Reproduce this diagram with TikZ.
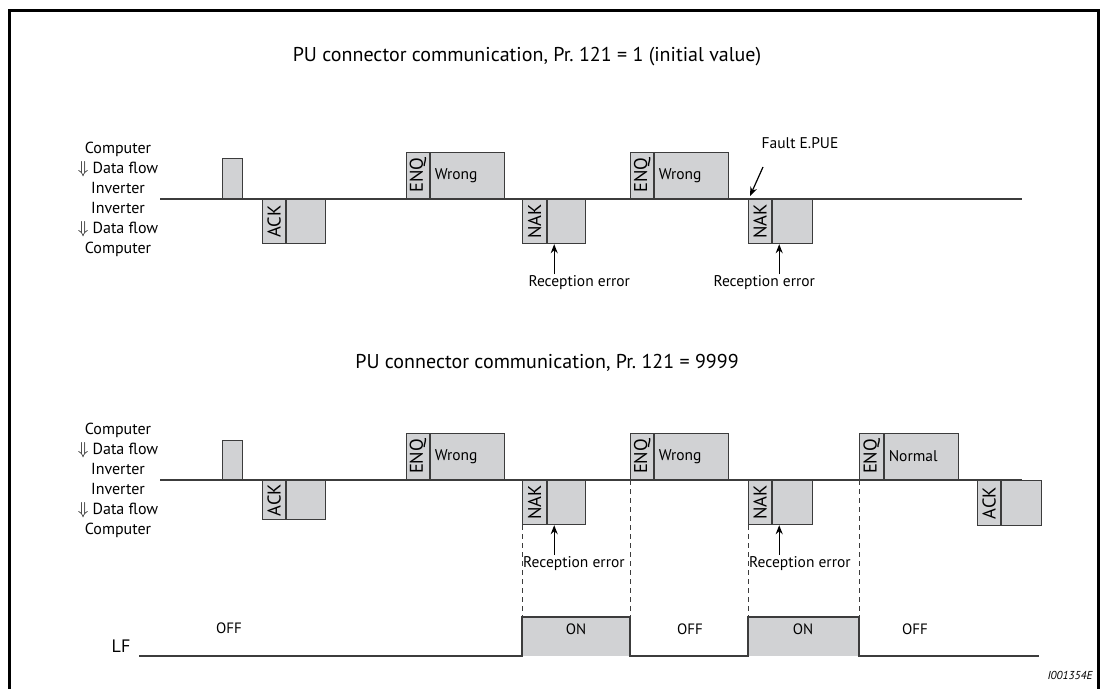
\documentclass[tikz,border=0pt]{standalone}
\usepackage{fontspec}
\setmainfont{PT Sans}
\usetikzlibrary{arrows.meta}

\definecolor{boxgray}{RGB}{209,210,212}
\definecolor{linegray}{RGB}{60,60,60}

\tikzstyle{wire} = [draw=linegray, line width=1.2pt]
\tikzstyle{tag} = [draw=linegray, fill=boxgray, line width=1.2pt, inner sep=0pt, minimum width=23pt, font=\fontsize{18.5}{19}\selectfont]
\tikzstyle{body} = [draw=linegray, fill=boxgray, line width=1.2pt, inner ysep=0pt, inner xsep=4pt, align=left, font=\fontsize{15.5}{17}\selectfont]
\tikzstyle{up} = [minimum height=46pt, anchor=south west]
\tikzstyle{down} = [minimum height=44pt, anchor=north west]
\tikzstyle{title} = [font=\fontsize{20}{22}\selectfont]
\tikzstyle{side} = [align=center, font=\fontsize{16}{20}\selectfont]
\tikzstyle{note} = [inner sep=1pt, font=\fontsize{15.5}{17}\selectfont]
\tikzstyle{state} = [font=\fontsize{15}{16}\selectfont]
\tikzstyle{errarrow} = [draw=black, line width=1.2pt, -{Stealth[length=9pt,width=7pt]}]
\tikzstyle{guide} = [draw=linegray, line width=0.8pt, dash pattern=on 5pt off 4pt]

\begin{document}
\begin{tikzpicture}[x=1pt, y=-1pt]
\useasboundingbox (0,0) rectangle (1105,688);
\clip (0,0) rectangle (1105,688);
%frame
\draw[line width=3pt] (9,700) -- (9,10) -- (1098,10) -- (1098,700);

%begin section 1 - Pr. 121 = 1
\node[title] (titleA) at (527,57) {PU connector communication, Pr.~121 = 1 (initial value)};
\node[side] (sideA) at (118,199) {Computer\\$\Downarrow$ Data flow\\Inverter\\Inverter\\$\Downarrow$ Data flow\\Computer};
\coordinate (startA) at (160,199);
\coordinate (endA) at (1022,199);
\draw[wire] (startA) -- (endA);
\node[body, minimum height=40pt, text width=12pt, anchor=south west] (pulseA) at (222,199) {};
\node[tag, down] (ackA) at (262,199) {\rotatebox{90}{ACK}};
\node[body, down, text width=31pt] (ackAb) at (ackA.north east) {};
\node[tag, up] (enqA) at (406,199) {\rotatebox{90}{ENQ}};
\node[body, up, text width=66pt] (enqAb) at (enqA.south east) {Wrong};
\node[tag, down, minimum width=24pt] (nakA) at (522,199) {\rotatebox{90}{NAK}};
\node[body, down, text width=30pt] (nakAb) at (nakA.north east) {};
\node[tag, up] (enqB) at (630,199) {\rotatebox{90}{ENQ}};
\node[body, up, text width=66pt] (enqBb) at (enqB.south east) {Wrong};
\node[tag, down] (nakB) at (748,199) {\rotatebox{90}{NAK}};
\node[body, down, text width=32pt] (nakBb) at (nakB.north east) {};
%reception errors
\node[note, anchor=north] (rxA) at ([xshift=32pt, yshift=-30pt]nakAb.south west) {Reception error};
\coordinate (tipA) at ([xshift=7pt]nakAb.south west);
\draw[errarrow] (tipA |- rxA.north) -- (tipA);
\node[note, anchor=north] (rxB) at ([xshift=-8pt, yshift=-30pt]nakBb.south west) {Reception error};
\coordinate (tipB) at ([xshift=7pt]nakBb.south west);
\draw[errarrow] (tipB |- rxB.north) -- (tipB);
%fault
\node[note] (faultA) at (800,143) {Fault E.PUE};
\coordinate (faultTail) at (763,167);
\draw[errarrow] (faultTail) -- ([xshift=2pt, yshift=3pt]nakB.north west);
%end section 1

%begin section 2 - Pr. 121 = 9999
\node[title] (titleB) at (547,363) {PU connector communication, Pr.~121 = 9999};
\node[side] (sideB) at (118,480) {Computer\\$\Downarrow$ Data flow\\Inverter\\Inverter\\$\Downarrow$ Data flow\\Computer};
\coordinate (startB) at (160,480);
\coordinate (endB) at (1022,480);
\draw[wire] (startB) -- (endB);
\node[body, minimum height=39pt, text width=12pt, anchor=south west] (pulseB) at (222,480) {};
\node[tag, down, minimum height=39pt] (ackC) at (262,480) {\rotatebox{90}{ACK}};
\node[body, down, minimum height=39pt, text width=31pt] (ackCb) at (ackC.north east) {};
\node[tag, up] (enqC) at (406,480) {\rotatebox{90}{ENQ}};
\node[body, up, text width=66pt] (enqCb) at (enqC.south east) {Wrong};
\node[tag, down, minimum width=24pt] (nakC) at (522,480) {\rotatebox{90}{NAK}};
\node[body, down, text width=30pt] (nakCb) at (nakC.north east) {};
\node[tag, up] (enqD) at (630,480) {\rotatebox{90}{ENQ}};
\node[body, up, text width=66pt] (enqDb) at (enqD.south east) {Wrong};
\node[tag, down] (nakD) at (748,480) {\rotatebox{90}{NAK}};
\node[body, down, text width=32pt] (nakDb) at (nakD.north east) {};
\node[tag, up, minimum width=24pt] (enqE) at (859,480) {\rotatebox{90}{ENQ}};
\node[body, up, text width=66pt] (enqEb) at (enqE.south east) {Normal};
\node[tag, down, minimum height=45pt] (ackD) at (977,480) {\rotatebox{90}{ACK}};
\node[body, down, minimum height=45pt, text width=32pt] (ackDb) at (ackD.north east) {};
%reception errors
\node[note, anchor=north west] (rxC) at ([yshift=-30pt]nakC.south west) {Reception error};
\coordinate (tipC) at ([xshift=7pt]nakCb.south west);
\draw[errarrow] (tipC |- rxC.north) -- (tipC);
\node[note, anchor=north west] (rxD) at ([yshift=-30pt]nakD.south west) {Reception error};
\coordinate (tipD) at ([xshift=7pt]nakDb.south west);
\draw[errarrow] (tipD |- rxD.north) -- (tipD);
%end section 2

%begin LF signal
\coordinate (lfHigh) at (0,617);
\coordinate (lfLow) at (0,656);
\coordinate (lfStart) at (139,656);
\coordinate (lfEnd) at (1039,656);
\fill[boxgray] (nakC.south west |- lfHigh) rectangle (enqD.south west |- lfLow);
\fill[boxgray] (nakD.south west |- lfHigh) rectangle (enqE.south west |- lfLow);
\draw[guide] (nakC.south west) -- (nakC.south west |- lfHigh);
\draw[guide] (enqD.south west) -- (enqD.south west |- lfHigh);
\draw[guide] (nakD.south west) -- (nakD.south west |- lfHigh);
\draw[guide] (enqE.south west) -- (enqE.south west |- lfHigh);
\draw[wire] (lfStart) -- (nakC.south west |- lfLow) -- (nakC.south west |- lfHigh)
    -- (enqD.south west |- lfHigh) -- (enqD.south west |- lfLow)
    -- (nakD.south west |- lfLow) -- (nakD.south west |- lfHigh)
    -- (enqE.south west |- lfHigh) -- (enqE.south west |- lfLow) -- (lfEnd);
\node[font=\fontsize{18}{20}\selectfont] (lfName) at (121,646) {LF};
\node[state] (offA) at (229,628) {OFF};
\node[state] (onA) at (576,629) {ON};
\node[state] (offB) at (690,629) {OFF};
\node[state] (onB) at (803,629) {ON};
\node[state] (offC) at (915,629) {OFF};
%end LF signal

\node[font=\fontsize{11.5}{12}\selectfont\itshape] (figId) at (1070,675) {I001354E};
\end{tikzpicture}
\end{document}
